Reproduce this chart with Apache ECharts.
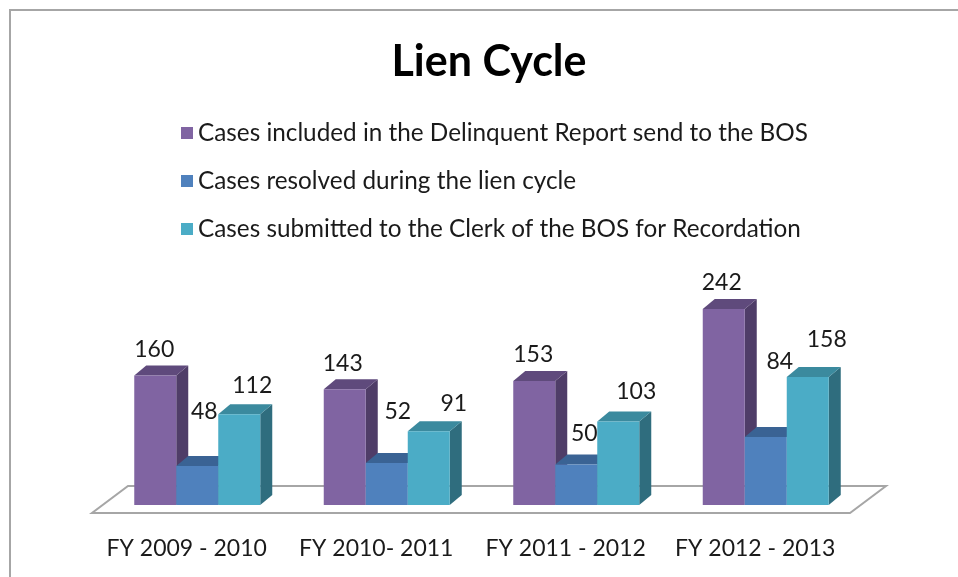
<!DOCTYPE html>
<html>
<head>
<meta charset="utf-8">
<script src="https://cdn.jsdelivr.net/npm/echarts@6/dist/echarts.min.js"></script>
<style>
  html, body { margin: 0; padding: 0; background: #fff; }
  #chart { width: 958px; height: 577px; }
</style>
</head>
<body>
<div id="chart"></div>
<script>
var categories = ['FY 2009 - 2010', 'FY 2010- 2011', 'FY 2011 - 2012', 'FY 2012 - 2013'];
var seriesNames = [
  'Cases included in the Delinquent Report send to the BOS',
  'Cases resolved during the lien cycle',
  'Cases submitted to the Clerk of the BOS for Recordation'
];
var delinquent = [160, 143, 153, 242];
var resolved = [48, 52, 50, 84];
var submitted = [112, 91, 103, 158];

// front / top / side shades per series
var shades = [
  ['#8064a2', '#5f4a7c', '#4f3d68'],
  ['#4f81bd', '#3a6394', '#2f5179'],
  ['#4bacc6', '#3b8a9e', '#2f6d7e']
];
// where Excel put each value label, relative to the bar's front top
var labelDx = [[-1, -2, -1, -2], [7, 11, 8, 14], [13, 25, 18, 19]];
var labelDy = [[-26, -26, -26, -26], [-55, -51, -31, -75], [-29, -28, -30, -37]];

var FONT = 'Lato, "Liberation Sans", sans-serif';
var DEPTH_X = 12, DEPTH_Y = -10;

function toPairs(arr) {
  return arr.map(function (v, i) { return [i, v]; });
}

function barRenderer(k) {
  return function (params, api) {
    var idx = api.value(0);
    var val = api.value(1);
    var base = api.coord([idx, 0]);
    var top = api.coord([idx, val]);
    var band = api.size([1, 0])[0];
    var w = band * 42 / 189.5;
    var x0 = base[0] - 1.5 * w + k * w;
    var x1 = x0 + w;
    var y0 = base[1], y1 = top[1];
    var c = shades[k];
    return {
      type: 'group',
      children: [
        {
          type: 'polygon',
          shape: { points: [[x1, y1], [x1 + DEPTH_X, y1 + DEPTH_Y], [x1 + DEPTH_X, y0 + DEPTH_Y], [x1, y0]] },
          style: { fill: c[2] }
        },
        {
          type: 'polygon',
          shape: { points: [[x0, y1], [x0 + DEPTH_X, y1 + DEPTH_Y], [x1 + DEPTH_X, y1 + DEPTH_Y], [x1, y1]] },
          style: { fill: c[1] }
        },
        {
          type: 'rect',
          shape: { x: x0, y: y1, width: w, height: y0 - y1 },
          style: { fill: c[0] }
        },
        {
          type: 'text',
          z2: 100,
          x: (x0 + x1) / 2 + labelDx[k][idx],
          y: y1 + labelDy[k][idx],
          style: {
            text: String(val),
            fill: '#1a1a1a',
            fontSize: 23,
            fontFamily: FONT,
            align: 'center',
            verticalAlign: 'middle'
          }
        }
      ]
    };
  };
}

function floorRenderer(params, api) {
  var cs = params.coordSys;
  var y0 = api.coord([0, 0])[1];
  var l = cs.x, r = cs.x + cs.width;
  return {
    type: 'polygon',
    shape: { points: [[l - 10.5, y0 + 8], [r - 10.5, y0 + 8], [r + 25.5, y0 - 19], [l + 25.5, y0 - 19]] },
    style: { fill: '#fff', stroke: '#a6a6a6', lineWidth: 2 }
  };
}

var chart = echarts.init(document.getElementById('chart'));
var allValues = [delinquent, resolved, submitted];

var series = [{
  name: 'floor',
  type: 'custom',
  renderItem: floorRenderer,
  data: [[0, 0]],
  silent: true,
  z: 1
}];
allValues.forEach(function (vals, k) {
  series.push({
    name: seriesNames[k],
    type: 'custom',
    renderItem: barRenderer(k),
    encode: { x: 0, y: 1 },
    itemStyle: { color: shades[k][0] },
    data: toPairs(vals),
    z: 2 + k
  });
});

chart.setOption({
  backgroundColor: '#fff',
  animation: false,
  title: {
    text: 'Lien Cycle',
    left: 484,
    textAlign: 'center',
    top: 36,
    textStyle: { fontFamily: FONT, fontWeight: 'bold', fontSize: 43, color: '#000' }
  },
  legend: {
    data: seriesNames,
    orient: 'vertical',
    left: 181,
    top: 121,
    padding: 0,
    itemWidth: 12,
    itemHeight: 12,
    itemGap: 24,
    icon: 'rect',
    selectedMode: false,
    textStyle: { fontFamily: FONT, fontSize: 24.3, color: '#1a1a1a', lineHeight: 24 }
  },
  grid: { left: 102.5, right: 97.5, top: 262, bottom: 72 },
  xAxis: {
    type: 'category',
    data: categories,
    axisLine: { show: false },
    axisTick: { show: false },
    axisLabel: {
      interval: 0,
      margin: 29,
      padding: [0, 21, 0, 0],
      fontFamily: FONT,
      fontSize: 23,
      color: '#1a1a1a',
      lineHeight: 30
    }
  },
  yAxis: {
    type: 'value',
    min: 0,
    max: 300,
    show: false,
    splitLine: { show: false }
  },
  graphic: [
    { type: 'line', shape: { x1: 9, y1: 10, x2: 958, y2: 10 }, style: { stroke: '#a6a6a6', lineWidth: 2 } },
    { type: 'line', shape: { x1: 10, y1: 9, x2: 10, y2: 577 }, style: { stroke: '#a6a6a6', lineWidth: 2 } }
  ],
  series: series
});
</script>
</body>
</html>
